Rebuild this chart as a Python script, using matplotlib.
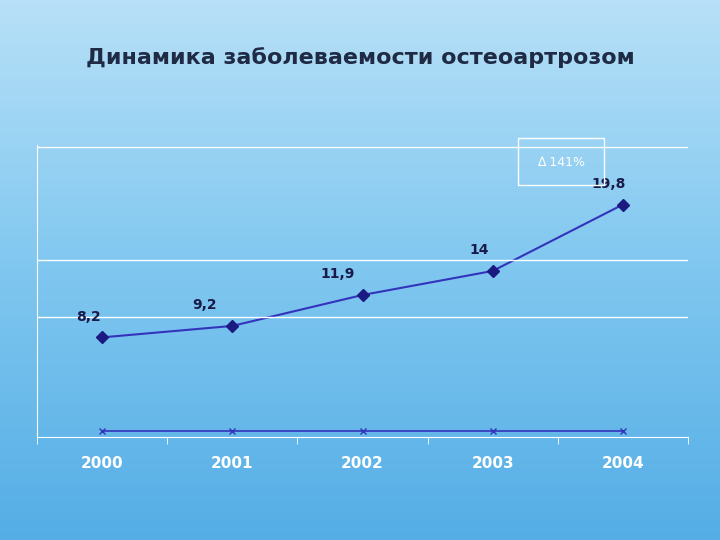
import numpy as np
import matplotlib
matplotlib.use("Agg")
import matplotlib.pyplot as plt
from matplotlib.patches import Rectangle

years = ["2000", "2001", "2002", "2003", "2004"]
values = [8.2, 9.2, 11.9, 14, 19.8]
labels = ["8,2", "9,2", "11,9", "14", "19,8"]
baseline = [0, 0, 0, 0, 0]

fig = plt.figure(figsize=(7.2, 5.4), dpi=100)
bg = fig.add_axes([0, 0, 1, 1])
grad = np.linspace(0, 1, 256)[:, None]
cols = np.array([[0.72, 0.88, 0.97], [0.50, 0.78, 0.94], [0.33, 0.68, 0.90]])
img = np.zeros((256, 1, 3))
for c in range(3):
    img[:, 0, c] = np.interp(grad[:, 0], [0, 0.5, 1], cols[:, c])
bg.imshow(img, aspect="auto", extent=[0, 1, 0, 1], origin="upper")
bg.axis("off")

fig.text(0.5, 0.882, "Динамика заболеваемости остеоартрозом", ha="center",
         fontsize=16, fontweight="bold", color="#1f2a44")

ax = fig.add_axes([37/720, 1-437/540, (688-37)/720, (437-145)/540])
ax.patch.set_alpha(0)
x = np.arange(len(years))
ax.plot(x, values, color="#3333bb", lw=1.5, marker="D", ms=6, mfc="#1a1a80", mec="#1a1a80")
ax.plot(x, baseline, color="#3333bb", lw=1.2, marker="x", ms=4)
offs = [(-10, 12), (-20, 12), (-18, 12), (-10, 12), (-10, 12)]
for i, (v, l) in enumerate(zip(values, labels)):
    ax.annotate(l, (i, v), xytext=offs[i], textcoords="offset points", ha="center",
                fontsize=10, fontweight="bold", color="#1a1a4a")
ax.set_xlim(-0.5, 4.5)
ax.set_ylim(-0.5, 25)
for g in [10, 15]:
    ax.axhline(g, color="white", lw=1)
for s in ["top", "right"]:
    ax.spines[s].set_visible(False)
ax.spines["left"].set_color("white")
ax.spines["bottom"].set_color("white")
ax.set_yticks([])
ax.set_xticks(x)
ax.set_xticklabels(years, fontsize=11, fontweight="bold", color="white")
ax.tick_params(axis="x", colors="white", length=4, pad=14)
ax.set_xticks(np.arange(-0.5, 5, 1), minor=True)
ax.tick_params(axis="x", which="minor", length=5, color="white")
ax.tick_params(axis="x", which="major", length=0)
ax.plot([-0.5, 4.5], [24.8, 24.8], color="white", lw=1)

fig.patches.append(Rectangle((518/720, 1-185/540), 86/720, 47/540, transform=fig.transFigure,
                             fill=False, ec="white", lw=1))
fig.text(561/720, 1-163/540, "∆ 141%", ha="center", va="center", fontsize=9, color="white")

fig.savefig("out.png", dpi=100)
